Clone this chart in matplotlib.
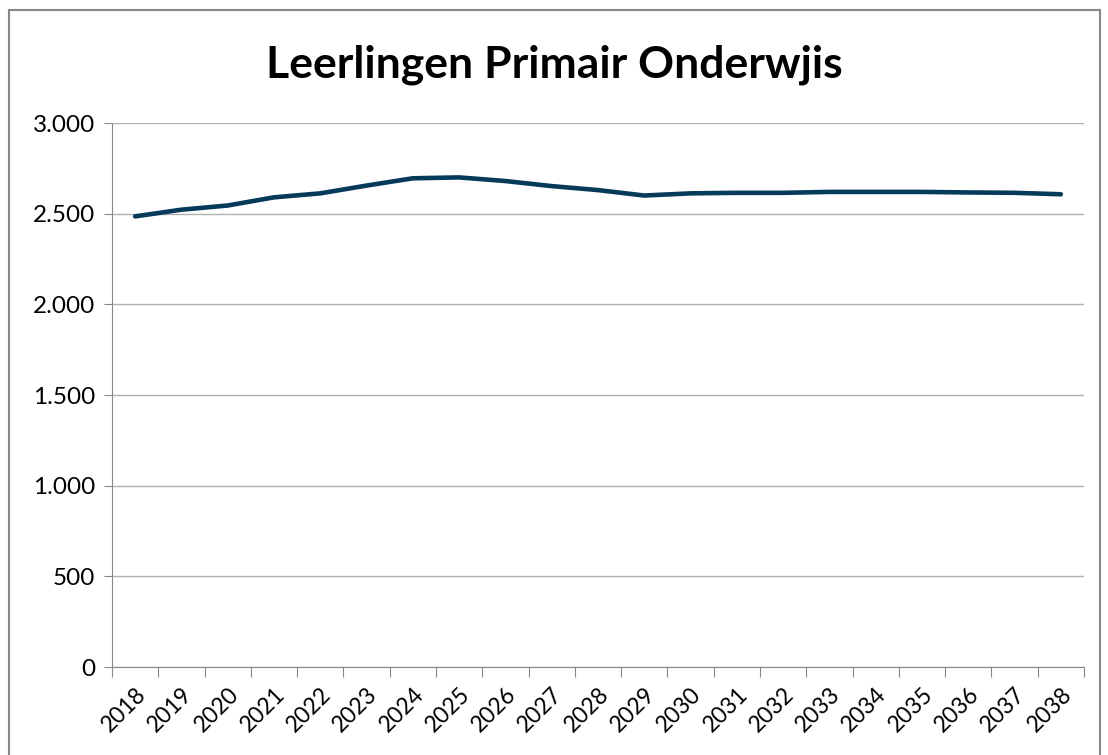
import matplotlib
matplotlib.use('Agg')
import matplotlib.pyplot as plt
import matplotlib.ticker as mticker
from matplotlib.patches import Rectangle
import numpy as np

jaren = [str(j) for j in range(2018, 2039)]
leerlingen = [2485, 2522, 2545, 2590, 2612, 2655, 2695, 2700, 2680, 2652,
              2630, 2600, 2612, 2615, 2615, 2620, 2620, 2620, 2617, 2615, 2607]
y_ticks = [0, 500, 1000, 1500, 2000, 2500, 3000]

plt.rcParams['font.family'] = ['Lato', 'DejaVu Sans']

fig = plt.figure(figsize=(11.08, 7.55), dpi=100)
ax = fig.add_axes([112/1108, 1 - 667/755, (1084 - 112)/1108, (667 - 123)/755])

x = np.arange(len(jaren))
ax.plot(x, leerlingen, color='#053a5a', linewidth=3.3, solid_capstyle='round')

ax.set_xlim(-0.5, len(jaren) - 0.5)
ax.set_ylim(0, 3000)
ax.set_yticks(y_ticks)
ax.yaxis.set_major_formatter(mticker.FuncFormatter(lambda v, p: f"{int(v):,}".replace(',', '.')))

# categorie-as: streepjes tussen de jaren, labels in het midden
ax.set_xticks(np.arange(-0.5, len(jaren), 1.0))
ax.set_xticklabels([])
ax.set_xticks(x, minor=True)
ax.set_xticklabels(jaren, minor=True, rotation=45, ha='right', rotation_mode='anchor', fontsize=16.5)
ax.tick_params(axis='x', which='minor', length=0, pad=12)
ax.tick_params(axis='x', which='major', length=7, color='#888888', direction='out')
ax.tick_params(axis='y', length=6, color='#888888', labelsize=17.5, pad=6)

ax.grid(axis='y', color='#b0b0b0', linewidth=1)
ax.set_axisbelow(True)
for s in ['top', 'right']:
    ax.spines[s].set_visible(False)
ax.spines['left'].set_color('#888888')
ax.spines['bottom'].set_color('#888888')

fig.text(0.5, 1 - 65/755, 'Leerlingen Primair Onderwjis', ha='center', va='center',
         fontsize=32, fontweight='bold')

fig.patches.append(Rectangle((9/1108, -0.05), (1100 - 9)/1108, 1.05 - 10/755,
                             transform=fig.transFigure, fill=False,
                             edgecolor='#888888', linewidth=1.5))

fig.savefig('out.png', dpi=100)
